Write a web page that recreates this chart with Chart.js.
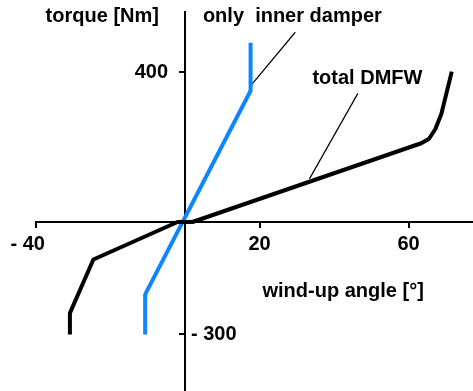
<!DOCTYPE html>
<html>
<head>
<meta charset="utf-8">
<script src="https://cdn.jsdelivr.net/npm/chart.js@4/dist/chart.umd.min.js"></script>
<style>
  html, body { margin: 0; padding: 0; background: #fff; }
  #wrap { width: 473px; height: 391px; }
</style>
</head>
<body>
<div id="wrap"><canvas id="dmfwChart" width="473" height="391"></canvas></div>
<script>
// wind-up angle [°] / torque [Nm]
const totalAngle  = [-30.9, -30.9, -24.6, -2, 2, 63.4, 65.5, 67.2, 68.8, 71.6];
const totalTorque = [-300, -243, -100, 0, 0, 210, 222, 248, 288, 401];

const innerAngle  = [-10.7, -10.7, 17.6, 17.6];
const innerTorque = [-300, -193, 350, 478];

// leader lines from the labels to the curves
const innerLeaderAngle  = [29.6, 17.6];
const innerLeaderTorque = [506, 363];
const totalLeaderAngle  = [46.4, 33.4];
const totalLeaderTorque = [343, 115];

const xTicks = [-40, 20, 60];
const yTicks = [400, -300];

const FONT = 'Liberation Sans, Arial, sans-serif';

function pts(xs, ys) {
    return xs.map((x, i) => ({x: x, y: ys[i]}));
}

function tickText(v) {
    return v < 0 ? '- ' + Math.abs(v) : String(v);
}

// free text: axis titles, curve names, y tick labels
// (centred y axis in chart.js puts its labels right on the line, so draw them here)
const textPlugin = {
    id: 'freeText',
    afterDraw(chart) {
        const c = chart.ctx;
        const sx = chart.scales.x, sy = chart.scales.y;
        c.save();
        c.fillStyle = '#000';
        c.font = 'bold 20px ' + FONT;
        c.textBaseline = 'middle';
        const put = (txt, x, y, align) => {
            c.textAlign = align;
            c.fillText(txt, sx.getPixelForValue(x), sy.getPixelForValue(y));
        };
        put('torque [Nm]', -7.0, 547, 'right');
        put('only  inner damper', 4.8, 547, 'left');
        put('total DMFW', 34.2, 384, 'left');
        put('wind-up angle [°]', 20.8, -184, 'left');

        const axisX = sx.getPixelForValue(0);
        yTicks.forEach(v => {
            c.textAlign = v < 0 ? 'left' : 'right';
            c.fillText(tickText(v), v < 0 ? axisX + 6 : axisX - 17, sy.getPixelForValue(v));
        });
        c.restore();
    }
};

const ctx = document.getElementById('dmfwChart').getContext('2d');
const chart = new Chart(ctx, {
    type: 'scatter',
    data: {
        datasets: [
            {
                label: 'total DMFW',
                data: pts(totalAngle, totalTorque),
                showLine: true,
                borderColor: '#000',
                borderWidth: 4,
                pointRadius: 0,
                borderJoinStyle: 'round'
            },
            {
                label: 'only inner damper',
                data: pts(innerAngle, innerTorque),
                showLine: true,
                borderColor: '#0d86ff',
                borderWidth: 4,
                pointRadius: 0,
                borderJoinStyle: 'round'
            },
            {
                data: pts(innerLeaderAngle, innerLeaderTorque),
                showLine: true,
                borderColor: '#000',
                borderWidth: 1.2,
                pointRadius: 0
            },
            {
                data: pts(totalLeaderAngle, totalLeaderTorque),
                showLine: true,
                borderColor: '#000',
                borderWidth: 1.2,
                pointRadius: 0
            }
        ]
    },
    options: {
        responsive: false,
        animation: false,
        layout: { padding: { left: 36, top: 12, right: 0, bottom: 0 } },
        plugins: {
            legend: { display: false },
            tooltip: { enabled: false }
        },
        scales: {
            x: {
                type: 'linear',
                position: { y: 0 },
                min: -40,
                max: 77.3,
                afterBuildTicks: (axis) => { axis.ticks = xTicks.map(v => ({value: v})); },
                // centred axes still take room in the layout, give it back
                afterFit: (s) => { s.height = 0; },
                border: { display: true, color: '#000', width: 2 },
                grid: { drawOnChartArea: false, drawTicks: true, tickLength: 5, color: '#000', lineWidth: 2 },
                ticks: {
                    color: '#000',
                    font: { family: FONT, size: 20, weight: 'bold' },
                    padding: 5,
                    maxRotation: 0,
                    // negative label sits a bit left of its tick in the original
                    callback: (v) => v < 0 ? tickText(v) + '   ' : tickText(v)
                }
            },
            y: {
                type: 'linear',
                position: { x: 0 },
                min: -450.7,
                max: 560,
                afterBuildTicks: (axis) => { axis.ticks = yTicks.map(v => ({value: v})); },
                afterFit: (s) => { s.width = 0; s.paddingTop = 0; s.paddingBottom = 0; },
                border: { display: true, color: '#000', width: 2 },
                grid: { drawOnChartArea: false, drawTicks: true, tickLength: 5, color: '#000', lineWidth: 2 },
                ticks: {
                    callback: () => ''
                }
            }
        }
    },
    plugins: [textPlugin]
});
</script>
</body>
</html>
